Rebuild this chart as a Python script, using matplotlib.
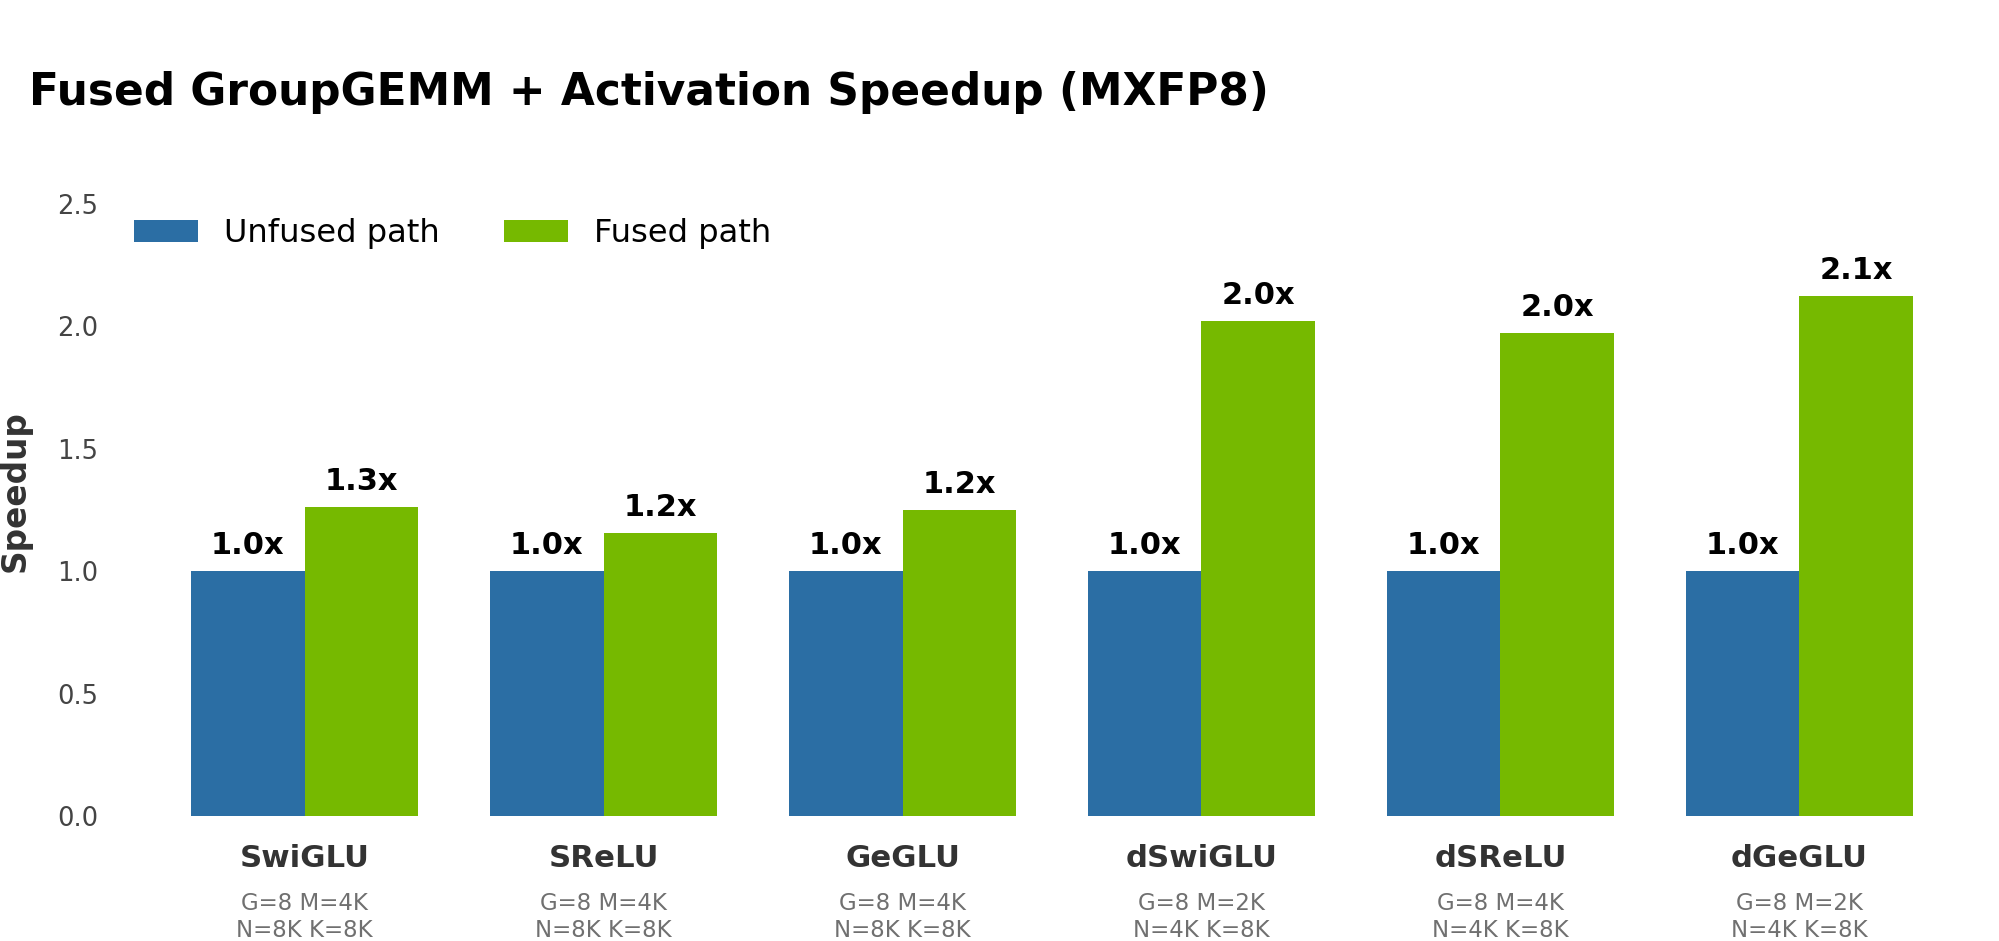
"""
Fused GroupGEMM + activation speedup chart (MXFP8)
"""

import numpy as np
import matplotlib
matplotlib.use("Agg")
import matplotlib.pyplot as plt

# Data
categories = ["SwiGLU", "SReLU", "GeGLU", "dSwiGLU", "dSReLU", "dGeGLU"]
shapes = [
    "G=8 M=4K\nN=8K K=8K",
    "G=8 M=4K\nN=8K K=8K",
    "G=8 M=4K\nN=8K K=8K",
    "G=8 M=2K\nN=4K K=8K",
    "G=8 M=4K\nN=4K K=8K",
    "G=8 M=2K\nN=4K K=8K",
]
unfused = [1.0, 1.0, 1.0, 1.0, 1.0, 1.0]
fused = [1.26, 1.157, 1.248, 2.02, 1.974, 2.124]
series_names = ["Unfused path", "Fused path"]

# Style
BLUE = "#2b6ea4"
GREEN = "#76b900"
DPI = 143
OUT = "out.png"


def main():
    fig = plt.figure(figsize=(1999 / DPI, 941 / DPI), dpi=DPI)
    ax = fig.add_axes([105 / 1999, 1 - 816 / 941, 1 - 105 / 1999, (816 - 167) / 941])

    x = np.arange(len(categories))
    width = 0.38

    b1 = ax.bar(x - width / 2, unfused, width, color=BLUE, label=series_names[0])
    b2 = ax.bar(x + width / 2, fused, width, color=GREEN, label=series_names[1])

    # value labels above each bar
    for bars in (b1, b2):
        for rect in bars:
            h = rect.get_height()
            ax.text(rect.get_x() + rect.get_width() / 2, h + 0.045, f"{h:.1f}x",
                    ha="center", va="bottom", fontsize=15.3, fontweight="bold", color="black")

    ax.set_ylim(0, 2.65)
    ax.set_yticks([0.0, 0.5, 1.0, 1.5, 2.0, 2.5])
    ax.tick_params(axis="y", length=0, labelsize=13, labelcolor="#444444")

    ax.set_xticks(x)
    ax.set_xticklabels(categories, fontsize=15.5, fontweight="bold", color="#333333")
    ax.tick_params(axis="x", length=0, pad=14)

    # shape info under each category
    for xi, s in zip(x, shapes):
        ax.annotate(s, xy=(xi, 0), xycoords=("data", "axes fraction"),
                    xytext=(0, -38.5), textcoords="offset points",
                    ha="center", va="top", fontsize=11.5, color="#707070",
                    linespacing=1.2)

    for sp in ax.spines.values():
        sp.set_visible(False)
    ax.grid(False)

    ax.set_ylabel("Speedup", fontsize=16.5, fontweight="bold", color="#333333")
    ax.yaxis.set_label_coords(-0.039, 0.5)

    ax.legend(loc="upper left", bbox_to_anchor=(0, 0.966), ncol=2, frameon=False,
              fontsize=16.2, handlelength=2.0, columnspacing=2.0)

    fig.text(29 / 1999, 1 - 104.5 / 941, "Fused GroupGEMM + Activation Speedup (MXFP8)",
             fontsize=22.1, fontweight="bold", ha="left", va="baseline")

    fig.savefig(OUT, dpi=DPI, facecolor="white")
    plt.close(fig)
    print(f"Saved: {OUT}")


if __name__ == "__main__":
    main()
